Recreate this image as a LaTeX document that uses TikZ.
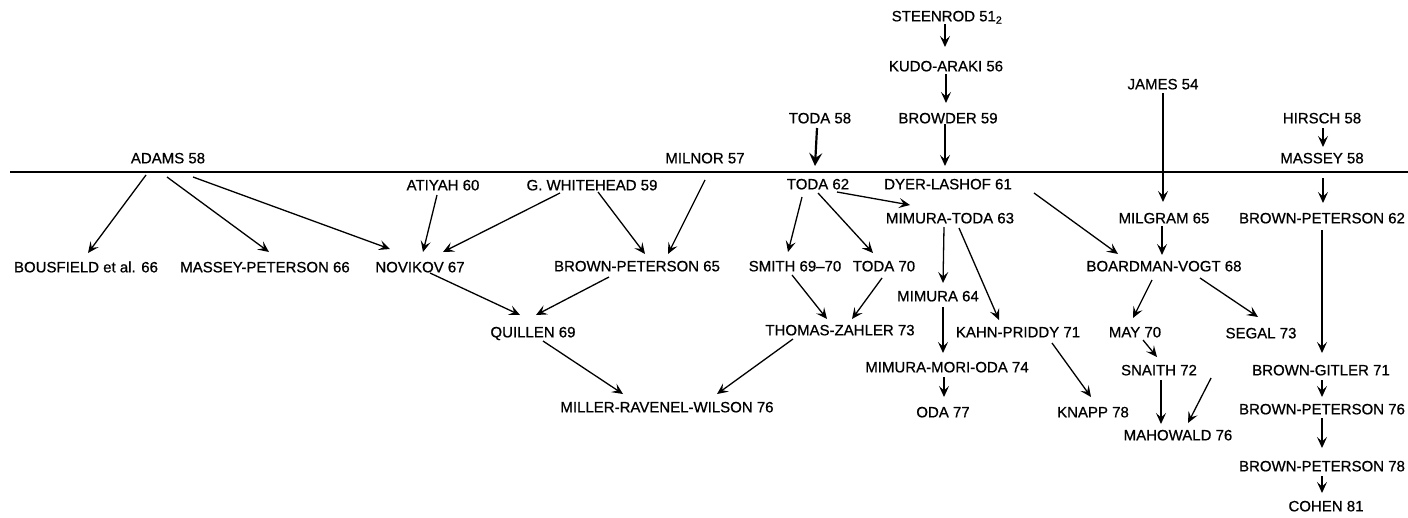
\documentclass[tikz,border=0pt]{standalone}
\usepackage{fontspec}
\setmainfont{Liberation Sans}[FakeBold=0.7]
\usetikzlibrary{calc,arrows.meta}
\newcommand{\labelSize}[0]{15}
\newcommand{\linkWidth}[0]{1.3pt}

\begin{document}
\begin{tikzpicture}[x=1pt, y=-1pt]
  \tikzset{every node/.style={font=\fontsize{\labelSize}{18}\selectfont, inner sep=0pt, text height=10.7pt, text depth=0pt, anchor=center},
    link/.style={line width=\linkWidth, -{Stealth[length=11pt,width=10pt,inset=4.5pt]}},
    heavy link/.style={line width=2.2pt, -{Stealth[length=13pt,width=13pt,inset=5pt]}}}
  \useasboundingbox (0,0) rectangle (1408,517);
  \draw[line width=1.6pt] (10,172) -- (1408,172);

  \node (steenrod-51) at (947,16) {STEENROD 51\textsubscript{2}};
  \node (kudo-araki-56) at (946,66) {KUDO-ARAKI 56};
  \node (browder-59) at (948,118) {BROWDER 59};
  \node (toda-58) at (820,118) {TODA 58};
  \node (milnor-57) at (705,158) {MILNOR 57};
  \node (adams-58) at (168,158) {ADAMS 58};
  \node (james-54) at (1163,84) {JAMES 54};
  \node (hirsch-58) at (1322,118) {HIRSCH 58};
  \node (massey-58) at (1322,158) {MASSEY 58};
  \node (toda-62) at (818,184) {TODA 62};
  \node (dyer-lashof-61) at (948,184) {DYER-LASHOF 61};
  \node (atiyah-60) at (443,185) {ATIYAH 60};
  \node (whitehead-59) at (592,185) {G. WHITEHEAD 59};
  \node (mimura-toda-63) at (950,218) {MIMURA-TODA 63};
  \node (milgram-65) at (1164,218) {MILGRAM 65};
  \node (brown-peterson-62) at (1322,218) {BROWN-PETERSON 62};
  \node (bousfield-66) at (86,267) {BOUSFIELD et al. 66};
  \node (massey-peterson-66) at (265,267) {MASSEY-PETERSON 66};
  \node (novikov-67) at (420,267) {NOVIKOV 67};
  \node (brown-peterson-65) at (637,266) {BROWN-PETERSON 65};
  \node (smith-69) at (795,266) {SMITH 69–70};
  \node (toda-70) at (884,266) {TODA 70};
  \node (boardman-vogt-68) at (1164,266) {BOARDMAN-VOGT 68};
  \node (mimura-64) at (938,296) {MIMURA 64};
  \node (quillen-69) at (533,332) {QUILLEN 69};
  \node (thomas-zahler-73) at (840,330) {THOMAS-ZAHLER 73};
  \node (kahn-priddy-71) at (1018,332) {KAHN-PRIDDY 71};
  \node (may-70) at (1135,332) {MAY 70};
  \node (segal-73) at (1261,333) {SEGAL 73};
  \node (mimura-mori-oda-74) at (947,367) {MIMURA-MORI-ODA 74};
  \node (snaith-72) at (1159,370) {SNAITH 72};
  \node (brown-gitler-71) at (1321,370) {BROWN-GITLER 71};
  \node (miller-ravenel-wilson-76) at (667,407) {MILLER-RAVENEL-WILSON 76};
  \node (oda-77) at (943,412) {ODA 77};
  \node (knapp-78) at (1093,412) {KNAPP 78};
  \node (brown-peterson-76) at (1322,409) {BROWN-PETERSON 76};
  \node (mahowald-76) at (1178,435) {MAHOWALD 76};
  \node (brown-peterson-78) at (1322,466) {BROWN-PETERSON 78};
  \node (cohen-81) at (1326,506) {COHEN 81};

  \draw[link] ($(steenrod-51)+(-2,8)$) -- ($(kudo-araki-56)+(-1,-19)$);
  \draw[link] ($(kudo-araki-56)+(0,8)$) -- ($(browder-59)+(-2,-15)$);
  \draw[link] ($(browder-59)+(-3,6)$) -- ($(dyer-lashof-61)+(-3,-18)$);
  \draw[heavy link] ($(toda-58)+(-3,10)$) -- ($(toda-62)+(-3,-18)$);
  \draw[link] ($(adams-58)+(-22,17)$) -- ($(bousfield-66)+(2,-14)$);
  \draw[link] ($(adams-58)+(-1,19)$) -- ($(massey-peterson-66)+(4,-15)$);
  \draw[link] ($(adams-58)+(25,19)$) -- ($(novikov-67)+(-30,-18)$);
  \draw[link] ($(atiyah-60)+(-6,10)$) -- ($(novikov-67)+(3,-15)$);
  \draw[link] ($(whitehead-59)+(-32,8)$) -- ($(novikov-67)+(23,-15)$);
  \draw[link] ($(whitehead-59)+(6,7)$) -- ($(brown-peterson-65)+(8,-12)$);
  \draw[link] ($(milnor-57)+(0,22)$) -- ($(brown-peterson-65)+(31,-12)$);
  \draw[link] ($(toda-62)+(-16,13)$) -- ($(smith-69)+(-7,-14)$);
  \draw[link] ($(toda-62)+(0,9)$) -- ($(toda-70)+(-11,-13)$);
  \draw[link] ($(toda-62)+(19,8)$) -- ($(mimura-toda-63)+(-40,-13)$);
  \draw[link] ($(dyer-lashof-61)+(86,9)$) -- ($(boardman-vogt-68)+(-46,-12)$);
  \draw[link] ($(james-54)+(0,9)$) -- ($(milgram-65)+(-1,-16)$);
  \draw[link] ($(milgram-65)+(-2,8)$) -- ($(boardman-vogt-68)+(-2,-11)$);
  \draw[link] ($(hirsch-58)+(1,10)$) -- ($(massey-58)+(1,-11)$);
  \draw[link] ($(massey-58)+(1,20)$) -- ($(brown-peterson-62)+(1,-15)$);
  \draw[link] ($(mimura-toda-63)+(-6,9)$) -- ($(mimura-64)+(5,-13)$);
  \draw[link] ($(mimura-toda-63)+(9,10)$) -- ($(kahn-priddy-71)+(-19,-12)$);
  \draw[link] ($(mimura-64)+(5,11)$) -- ($(mimura-mori-oda-74)+(-4,-14)$);
  \draw[link] ($(mimura-mori-oda-74)+(-3,10)$) -- ($(oda-77)+(1,-15)$);
  \draw[link] ($(kahn-priddy-71)+(34,11)$) -- ($(knapp-78)+(-2,-15)$);
  \draw[link] ($(novikov-67)+(10,6)$) -- ($(quillen-69)+(-13,-17)$);
  \draw[link] ($(brown-peterson-65)+(-28,11)$) -- ($(quillen-69)+(3,-17)$);
  \draw[link] ($(smith-69)+(-3,9)$) -- ($(thomas-zahler-73)+(-13,-11)$);
  \draw[link] ($(toda-70)+(-2,12)$) -- ($(thomas-zahler-73)+(12,-11)$);
  \draw[link] ($(quillen-69)+(10,9)$) -- ($(miller-ravenel-wilson-76)+(-44,-13)$);
  \draw[link] ($(thomas-zahler-73)+(-47,9)$) -- ($(miller-ravenel-wilson-76)+(50,-13)$);
  \draw[link] ($(boardman-vogt-68)+(-12,14)$) -- ($(may-70)+(-2,-14)$);
  \draw[link] ($(boardman-vogt-68)+(36,12)$) -- ($(segal-73)+(-3,-16)$);
  \draw[link] ($(may-70)+(8,8)$) -- ($(snaith-72)+(-2,-13)$);
  \draw[link] ($(snaith-72)+(2,10)$) -- ($(mahowald-76)+(-17,-11)$);
  \draw[link] ($(brown-gitler-71.west)+(-41,8)$) -- ($(mahowald-76)+(10,-12)$);
  \draw[link] ($(brown-peterson-62)+(0,12)$) -- ($(brown-gitler-71)+(1,-17)$);
  \draw[link] ($(brown-gitler-71)+(1,10)$) -- ($(brown-peterson-76)+(0,-12)$);
  \draw[link] ($(brown-peterson-76)+(0,9)$) -- ($(brown-peterson-78)+(0,-18)$);
  \draw[link] ($(brown-peterson-78)+(0,10)$) -- ($(cohen-81)+(-4,-13)$);
\end{tikzpicture}
\end{document}
